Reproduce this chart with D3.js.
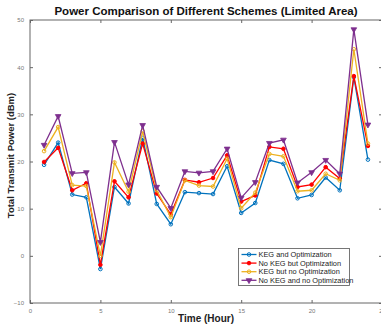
<!DOCTYPE html>
<html>
<head>
<meta charset="utf-8">
<script src="https://cdn.jsdelivr.net/npm/d3@7"></script>
<style>
  body { margin: 0; background: #fff; }
  svg { display: block; font-family: "Liberation Sans", Arial, sans-serif; }
</style>
</head>
<body>
<svg width="381" height="327"></svg>
<script>
    // hours 1..24
    const hours = d3.range(1, 25);

    const kegOpt = [19.3, 24.0, 13.0, 12.4, -2.8, 14.6, 11.1, 25.0, 11.0, 6.7, 13.5, 13.3,
                    13.1, 19.0, 9.1, 11.2, 20.3, 19.5, 12.2, 12.9, 16.6, 13.9, 37.9, 20.4];
    const noKegOpt = [19.9, 22.9, 13.9, 15.4, -1.9, 15.8, 12.4, 23.8, 13.2, 8.8, 16.1, 15.6,
                      16.5, 21.3, 11.5, 12.8, 23.1, 22.7, 14.6, 15.1, 18.8, 16.4, 38.1, 23.3];
    const kegNoOpt = [22.2, 27.3, 15.0, 14.8, 0.0, 19.8, 13.6, 26.4, 13.9, 8.2, 16.0, 14.9,
                      14.7, 20.6, 10.1, 13.4, 21.6, 21.1, 13.7, 13.9, 17.4, 16.0, 43.8, 23.8];
    const noKegNoOpt = [23.5, 29.6, 17.5, 17.7, 2.9, 24.1, 15.1, 27.7, 14.6, 10.1, 17.9, 17.6,
                        17.9, 22.7, 12.3, 15.6, 23.9, 24.6, 15.5, 17.7, 20.3, 17.4, 48.0, 27.8];

    const seriesNames = ["KEG and Optimization", "No KEG but Optimization",
                         "KEG but no Optimization", "No KEG and no Optimization"];
    const xTicks = [0, 5, 10, 15, 20, 25];
    const yTicks = [-10, 0, 10, 20, 30, 40, 50];

    const series = [
      {name: seriesNames[0], values: kegOpt, color: "#0072BD", marker: "circle", fill: "none"},
      {name: seriesNames[1], values: noKegOpt, color: "#FF0000", marker: "circle", fill: "#FF0000"},
      {name: seriesNames[2], values: kegNoOpt, color: "#EDB120", marker: "circle", fill: "none"},
      {name: seriesNames[3], values: noKegNoOpt, color: "#7E2F8E", marker: "triangle", fill: "#7E2F8E"}
    ];

    const svg = d3.select("svg"),
          margin = {top: 20, right: -1, bottom: 24, left: 30},
          width = +svg.attr("width") - margin.left - margin.right,
          height = +svg.attr("height") - margin.top - margin.bottom;

    const g = svg.append("g").attr("transform", `translate(${margin.left},${margin.top})`);

    const x = d3.scaleLinear().domain([0, 25]).range([0, width]);
    const y = d3.scaleLinear().domain([-10, 50]).range([height, 0]);

    const axisColor = "#666";

    // box
    g.append("rect")
      .attr("width", width)
      .attr("height", height)
      .attr("fill", "none")
      .attr("stroke", axisColor)
      .attr("stroke-width", 1);

    const xAxis = g.append("g")
      .attr("transform", `translate(0,${height})`)
      .call(d3.axisBottom(x).tickValues(xTicks).tickSize(-3).tickPadding(6));
    const yAxis = g.append("g")
      .call(d3.axisLeft(y).tickValues(yTicks).tickSize(-3).tickPadding(6));
    g.append("g")
      .call(d3.axisTop(x).tickValues(xTicks).tickSize(-3).tickFormat(""));
    g.append("g")
      .attr("transform", `translate(${width},0)`)
      .call(d3.axisRight(y).tickValues(yTicks).tickSize(-3).tickFormat(""));

    g.selectAll(".domain").remove();
    g.selectAll(".tick line").attr("stroke", axisColor);
    g.selectAll(".tick text")
      .attr("fill", "#777")
      .style("font-size", "6px");

    const line = d3.line()
      .x((d, i) => x(hours[i]))
      .y(d => y(d));

    const tri = d3.symbol().type(d3.symbolTriangle).size(14);

    series.forEach(s => {
      g.append("path")
        .datum(s.values)
        .attr("fill", "none")
        .attr("stroke", s.color)
        .attr("stroke-width", 1.3)
        .attr("d", line);

      const pts = g.append("g").selectAll("path")
        .data(s.values)
        .enter();
      if (s.marker === "triangle") {
        pts.append("path")
          .attr("d", tri)
          .attr("transform", (d, i) => `translate(${x(hours[i])},${y(d)}) rotate(180)`)
          .attr("fill", s.fill)
          .attr("stroke", s.color)
          .attr("stroke-width", 0.8);
      } else {
        pts.append("circle")
          .attr("cx", (d, i) => x(hours[i]))
          .attr("cy", d => y(d))
          .attr("r", 1.8)
          .attr("fill", s.fill)
          .attr("stroke", s.color)
          .attr("stroke-width", 1);
      }
    });

    // Legend
    const legend = g.append("g").attr("transform", "translate(208.5,228.5)");
    legend.append("rect")
      .attr("width", 111)
      .attr("height", 37)
      .attr("fill", "#fff")
      .attr("stroke", "#555")
      .attr("stroke-width", 0.8);

    series.forEach((s, i) => {
      const row = legend.append("g").attr("transform", `translate(0,${6 + i * 8.6})`);
      row.append("line")
        .attr("x1", 3).attr("x2", 18)
        .attr("stroke", s.color).attr("stroke-width", 1.3);
      if (s.marker === "triangle") {
        row.append("path").attr("d", tri)
          .attr("transform", "translate(10.5,0) rotate(180)")
          .attr("fill", s.fill).attr("stroke", s.color).attr("stroke-width", 0.8);
      } else {
        row.append("circle").attr("cx", 10.5).attr("r", 1.8)
          .attr("fill", s.fill).attr("stroke", s.color).attr("stroke-width", 1);
      }
      row.append("text")
        .attr("x", 20)
        .attr("y", 2.5)
        .style("font-size", "7.4px")
        .attr("fill", "#222")
        .text(s.name);
    });

    // Chart title
    svg.append("text")
      .attr("x", margin.left + width / 2)
      .attr("y", 15)
      .attr("text-anchor", "middle")
      .style("font-size", "11.5px")
      .style("font-weight", "bold")
      .attr("fill", "#111")
      .text("Power Comparison of Different Schemes (Limited Area)");

    // X-axis label
    svg.append("text")
      .attr("x", margin.left + width / 2)
      .attr("y", 322)
      .attr("text-anchor", "middle")
      .style("font-size", "10px")
      .style("font-weight", "bold")
      .attr("fill", "#222")
      .text("Time (Hour)");

    // Y-axis label
    svg.append("text")
      .attr("transform", "rotate(-90)")
      .attr("y", 14)
      .attr("x", -(margin.top + height / 2) + 6)
      .attr("text-anchor", "middle")
      .style("font-size", "9.5px")
      .style("font-weight", "bold")
      .attr("fill", "#222")
      .text("Total Transmit Power (dBm)");
</script>
</body>
</html>
